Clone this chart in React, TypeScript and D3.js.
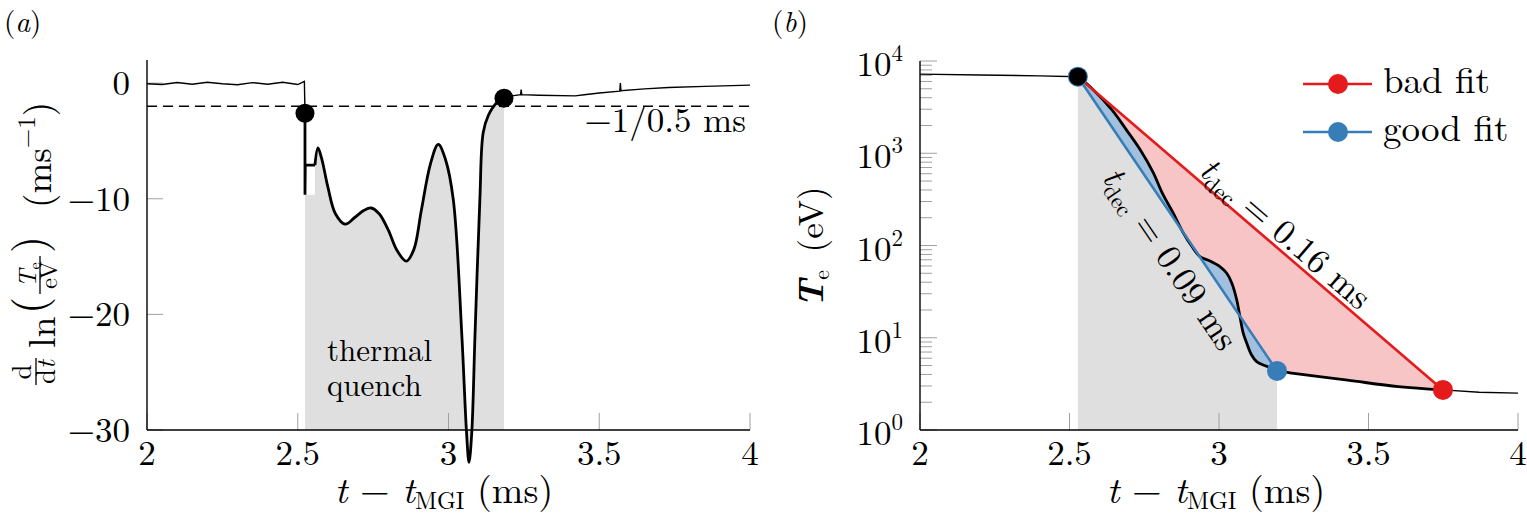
import React from 'react'
import * as d3 from 'd3'

type Pt = [number, number]

// ---- panel (a): d/dt ln(Te/eV) in ms^-1 ----
const rateBefore: Pt[] = [
  [2.0, -0.05], [2.05, -0.12], [2.1, 0.05], [2.15, -0.1], [2.2, 0.08], [2.25, -0.06],
  [2.3, -0.14], [2.35, 0.04], [2.4, -0.1], [2.45, 0.08], [2.5, -0.12], [2.522, 0.15], [2.524, -2.6],
]
const rateStep: Pt[] = [[2.524, -2.6], [2.524, -9.65], [2.525, -7.1], [2.557, -7.1]]
const rateTQ: Pt[] = [
  [2.557, -7.1], [2.567, -5.6], [2.58, -6.6], [2.6, -9.0], [2.625, -11.3], [2.657, -12.2],
  [2.69, -11.6], [2.72, -11.0], [2.743, -10.8], [2.77, -11.3], [2.8, -12.7], [2.83, -14.5],
  [2.86, -15.4], [2.885, -14.4], [2.91, -11.0], [2.94, -7.0], [2.966, -5.3], [2.99, -6.6],
  [3.016, -10.1], [3.044, -21.7], [3.06, -30.3], [3.068, -32.8], [3.077, -30.3], [3.088, -21.7],
  [3.104, -10.1], [3.115, -4.3], [3.132, -2.8], [3.16, -1.7], [3.184, -1.3],
]
const rateAfter: Pt[] = [
  [3.184, -1.3], [3.21, -1.1], [3.239, -1.0], [3.241, -0.55], [3.243, -1.0], [3.3, -1.05],
  [3.42, -1.1], [3.45, -1.0], [3.5, -0.85], [3.568, -0.7], [3.57, 0.0], [3.572, -0.65],
  [3.65, -0.5], [3.73, -0.38], [3.85, -0.28], [4.0, -0.17],
]
const rateDots: Pt[] = [[2.524, -2.6], [3.184, -1.3]]
const tqWindow: Pt = [2.524, 3.184]
const decayThreshold = -2 // -1 / 0.5 ms

// ---- panel (b): Te in eV ----
const teBefore: Pt[] = [[2.0, 7200], [2.2, 7050], [2.4, 6900], [2.528, 6760]]
const teTQ: Pt[] = [
  [2.528, 6760], [2.569, 5250], [2.642, 2950], [2.691, 1780], [2.736, 1096], [2.78, 617],
  [2.81, 372], [2.847, 224], [2.88, 138], [2.909, 98], [2.936, 76], [2.97, 68], [3.003, 59],
  [3.026, 50], [3.043, 39], [3.059, 26], [3.07, 17], [3.081, 11.2], [3.093, 8.7], [3.109, 6.5],
  [3.126, 5.5], [3.159, 4.9], [3.194, 4.37], [3.237, 4.17], [3.43, 3.47], [3.6, 2.95], [3.749, 2.72],
]
const teAfter: Pt[] = [[3.749, 2.72], [3.87, 2.57], [4.0, 2.51]]
const badFit: Pt[] = [[2.528, 6760], [3.749, 2.72]]
const goodFit: Pt[] = [[2.528, 6760], [3.194, 4.37]]
const badLabel = '0.16 ms'
const goodLabel = '0.09 ms'

const xTicks = [2, 2.5, 3, 3.5, 4]
const rateTicks = [0, -10, -20, -30]

const RED = '#e41a1c'
const BLUE = '#377eb8'
const PINK = '#f7c5c6'
const LIGHTBLUE = '#a2c0de'
const GREY = '#dfdfdf'
const TICK = '#a0a0a0'
const font = { fontFamily: "'Latin Modern Roman', 'Liberation Serif', serif" }

const fmt = (v: number) => (v < 0 ? '\u2212' + Math.abs(v) : String(v))

export default function App() {
  const xA = d3.scaleLinear().domain([2, 4]).range([147, 750])
  const yA = d3.scaleLinear().domain([-30, 2]).range([430, 60])
  const xB = d3.scaleLinear().domain([2, 4]).range([920, 1518])
  const yB = d3.scaleLog().domain([1, 1e4]).range([430, 61])

  const cr = d3.curveCatmullRom.alpha(0.5)
  const lineA = d3.line<Pt>().x(d => xA(d[0])).y(d => yA(d[1]))
  const smoothA = d3.line<Pt>().x(d => xA(d[0])).y(d => yA(d[1])).curve(cr)
  const areaA = d3.area<Pt>().x(d => xA(d[0])).y0(yA(-30)).y1(d => yA(d[1])).curve(cr)
  const stepArea = d3.area<Pt>().x(d => xA(d[0])).y0(yA(-30)).y1(d => yA(d[1]))

  const lineB = d3.line<Pt>().x(d => xB(d[0])).y(d => yB(d[1]))
  const smoothB = d3.line<Pt>().x(d => xB(d[0])).y(d => yB(d[1])).curve(cr)
  const areaB = d3.area<Pt>().x(d => xB(d[0])).y0(yB(1)).y1(d => yB(d[1])).curve(cr)

  const iGood = teTQ.findIndex(d => d[0] === goodFit[1][0])
  const tqPart = teTQ.slice(0, iGood + 1)
  const fitFill = (fit: Pt[], pts: Pt[]) =>
    (lineB(fit) as string) + (smoothB(pts.slice().reverse()) as string).replace(/^M/, 'L') + 'Z'

  // label placement along a fit line
  const along = (fit: Pt[], frac: number, off: number) => {
    const x0 = xB(fit[0][0]), y0 = yB(fit[0][1]), x1 = xB(fit[1][0]), y1 = yB(fit[1][1])
    const dx = x1 - x0, dy = y1 - y0, len = Math.hypot(dx, dy)
    const nx = dy / len, ny = -dx / len
    return {
      x: x0 + dx * frac + nx * off,
      y: y0 + dy * frac + ny * off,
      a: (Math.atan2(dy, dx) * 180) / Math.PI,
    }
  }
  const badPos = along(badFit, 0.54, 5)
  const goodPos = along(goodFit, 0.57, -37)

  const teTicksAll = yB.ticks()
  const isMajor = (v: number) => Math.abs(Math.log10(v) - Math.round(Math.log10(v))) < 1e-9

  const fs = 35

  const axisTitle = (x: number) => (
    <text x={x} y={503} fontSize={38} textAnchor="middle" style={font}>
      <tspan fontStyle="italic">t</tspan>{' \u2212 '}<tspan fontStyle="italic">t</tspan>
      <tspan fontSize={24} dy={6}>MGI</tspan><tspan dy={-6}>{' (ms)'}</tspan>
    </text>
  )

  return (
    <svg width={1527} height={523} style={{ position: 'absolute', left: 0, top: 0, background: '#fff' }}>
      {/* ================= panel (a) ================= */}
      <text x={4} y={32} fontSize={29} style={font}>(<tspan fontStyle="italic">a</tspan>)</text>

      <path d={areaA(rateTQ) as string} fill={GREY} />
      <path d={stepArea([[rateStep[1][0], rateStep[1][1]], [rateStep[3][0], rateStep[1][1]]]) as string} fill={GREY} />

      {xTicks.map(t => (
        <line key={'xa' + t} x1={xA(t)} x2={xA(t)} y1={yA(-30)} y2={yA(-30) - 17} stroke={TICK} strokeWidth={1} />
      ))}
      {rateTicks.map(v => (
        <line key={'ya' + v} x1={xA(2)} x2={xA(2) + 16} y1={yA(v)} y2={yA(v)} stroke={TICK} strokeWidth={1} />
      ))}

      <line x1={xA(2)} x2={xA(4)} y1={yA(decayThreshold)} y2={yA(decayThreshold)}
        stroke="#000" strokeWidth={1.6} strokeDasharray="10 6" />

      <path d={lineA(rateBefore) as string} fill="none" stroke="#000" strokeWidth={1.4} />
      <path d={lineA(rateAfter) as string} fill="none" stroke="#000" strokeWidth={1.4} />
      <path d={lineA(rateStep) as string} fill="none" stroke="#000" strokeWidth={2.8} />
      <path d={smoothA(rateTQ) as string} fill="none" stroke="#000" strokeWidth={2.8} strokeLinejoin="round" />

      {rateDots.map((d, i) => (
        <circle key={'da' + i} cx={xA(d[0])} cy={yA(d[1])} r={9.5} fill="#000" />
      ))}

      <line x1={xA(2)} x2={xA(2)} y1={yA(-30)} y2={yA(2)} stroke="#000" strokeWidth={1.4} />
      <line x1={xA(2)} x2={xA(4)} y1={yA(-30)} y2={yA(-30)} stroke="#000" strokeWidth={1.4} />

      {xTicks.map(t => (
        <text key={'xla' + t} x={xA(t)} y={465} fontSize={fs} textAnchor="middle" style={font}>{t}</text>
      ))}
      {rateTicks.map(v => (
        <text key={'yla' + v} x={130} y={yA(v) + 12} fontSize={fs} textAnchor="end" style={font}>{fmt(v)}</text>
      ))}

      <text x={746} y={132} fontSize={fs} textAnchor="end" style={font}>{'\u22121/0.5 ms'}</text>
      <text x={xA(tqWindow[0]) + 22} y={361} fontSize={31} style={font}>thermal</text>
      <text x={xA(tqWindow[0]) + 22} y={396} fontSize={31} style={font}>quench</text>

      {axisTitle(444)}

      {/* rotated y label of (a) */}
      <g transform="translate(55,388) rotate(-90)">
        <text x={16} y={-24} fontSize={27} textAnchor="middle" style={font}>d</text>
        <line x1={3} x2={30} y1={-19} y2={-19} stroke="#000" strokeWidth={1.3} />
        <text x={16} y={0} fontSize={27} textAnchor="middle" style={font}>d<tspan fontStyle="italic">t</tspan></text>
        <text x={40} y={0} fontSize={38} style={font}>ln</text>
        <text x={74} y={-11} fontSize={44} style={font}>(</text>
        <text x={113} y={-19} fontSize={25} textAnchor="middle" style={font}>
          <tspan fontStyle="italic">T</tspan><tspan fontSize={16} dy={4}>e</tspan>
        </text>
        <line x1={94} x2={132} y1={-15} y2={-15} stroke="#000" strokeWidth={1.3} />
        <text x={113} y={2} fontSize={25} textAnchor="middle" style={font}>eV</text>
        <text x={135} y={-11} fontSize={44} style={font}>)</text>
        <text x={180} y={-4} fontSize={37} style={font}>(ms<tspan fontSize={25} dy={-16}>{'\u22121'}</tspan><tspan dy={16}>)</tspan></text>
      </g>

      {/* ================= panel (b) ================= */}
      <text x={772} y={32} fontSize={29} style={font}>(<tspan fontStyle="italic">b</tspan>)</text>

      <path d={areaB(tqPart) as string} fill={GREY} />
      <path d={fitFill(badFit, teTQ)} fill={PINK} />
      <path d={fitFill(goodFit, tqPart)} fill={LIGHTBLUE} />

      {xTicks.map(t => (
        <line key={'xb' + t} x1={xB(t)} x2={xB(t)} y1={yB(1)} y2={yB(1) - 17} stroke={TICK} strokeWidth={1} />
      ))}
      {teTicksAll.map(v => (
        <line key={'yb' + v} x1={xB(2)} x2={xB(2) + (isMajor(v) ? 17 : 12)} y1={yB(v)} y2={yB(v)}
          stroke={TICK} strokeWidth={1} />
      ))}

      <path d={lineB(teBefore) as string} fill="none" stroke="#000" strokeWidth={1.4} />
      <path d={lineB(teAfter) as string} fill="none" stroke="#000" strokeWidth={1.4} />
      <path d={smoothB(teTQ) as string} fill="none" stroke="#000" strokeWidth={2.8} strokeLinejoin="round" />

      <path d={lineB(badFit) as string} fill="none" stroke={RED} strokeWidth={2.6} />
      <path d={lineB(goodFit) as string} fill="none" stroke={BLUE} strokeWidth={2.6} />

      <circle cx={xB(badFit[1][0])} cy={yB(badFit[1][1])} r={10} fill={RED} />
      <circle cx={xB(goodFit[1][0])} cy={yB(goodFit[1][1])} r={10} fill={BLUE} />
      <circle cx={xB(goodFit[0][0])} cy={yB(goodFit[0][1])} r={10} fill={BLUE} />
      <circle cx={xB(goodFit[0][0])} cy={yB(goodFit[0][1])} r={9} fill="#000" />

      <text transform={`translate(${badPos.x},${badPos.y}) rotate(${badPos.a})`} fontSize={fs} textAnchor="middle" style={font}>
        <tspan fontStyle="italic">t</tspan><tspan fontSize={23} dy={7}>dec</tspan><tspan dy={-7}>{' = ' + badLabel}</tspan>
      </text>
      <text transform={`translate(${goodPos.x},${goodPos.y}) rotate(${goodPos.a})`} fontSize={fs} textAnchor="middle" style={font}>
        <tspan fontStyle="italic">t</tspan><tspan fontSize={23} dy={7}>dec</tspan><tspan dy={-7}>{' = ' + goodLabel}</tspan>
      </text>

      <line x1={xB(2)} x2={xB(2)} y1={yB(1)} y2={yB(1e4)} stroke="#000" strokeWidth={1.4} />
      <line x1={xB(2)} x2={xB(4)} y1={yB(1)} y2={yB(1)} stroke="#000" strokeWidth={1.4} />

      {xTicks.map(t => (
        <text key={'xlb' + t} x={xB(t)} y={465} fontSize={fs} textAnchor="middle" style={font}>{t}</text>
      ))}
      {teTicksAll.filter(isMajor).map(v => (
        <text key={'ylb' + v} x={903} y={yB(v) + 15} fontSize={fs} textAnchor="end" style={font}>
          10<tspan fontSize={23} dy={-15}>{Math.round(Math.log10(v))}</tspan>
        </text>
      ))}

      {axisTitle(1216)}
      <text transform="translate(823,247) rotate(-90)" fontSize={35} textAnchor="middle" style={font}>
        <tspan fontStyle="italic" fontWeight="bold">T</tspan><tspan fontSize={22} dy={6}>e</tspan>
        <tspan dy={-6}>{'\u2002(eV)'}</tspan>
      </text>

      {/* legend */}
      <line x1={1303} x2={1372} y1={84} y2={84} stroke={RED} strokeWidth={2.6} />
      <circle cx={1338} cy={84} r={10} fill={RED} />
      <text x={1383} y={93} fontSize={37} style={font}>bad fit</text>
      <line x1={1303} x2={1372} y1={132} y2={132} stroke={BLUE} strokeWidth={2.6} />
      <circle cx={1338} cy={132} r={10} fill={BLUE} />
      <text x={1383} y={141} fontSize={37} style={font}>good fit</text>
    </svg>
  )
}
